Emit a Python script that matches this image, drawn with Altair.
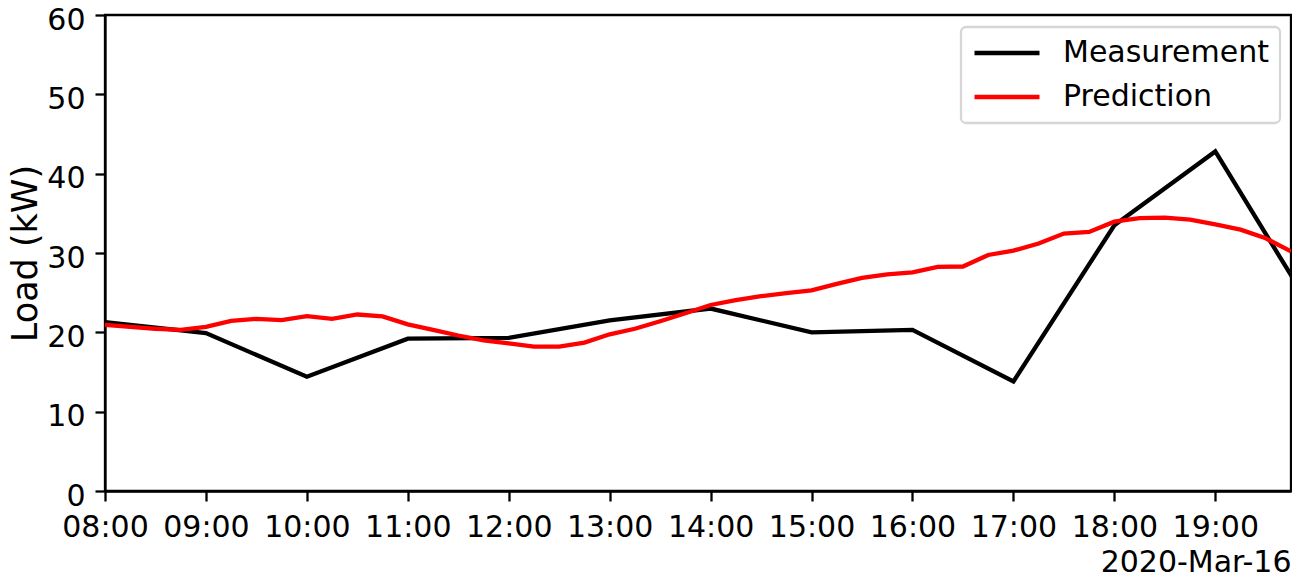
import altair as alt
import pandas as pd

# Measurement (hourly)
meas_times = pd.date_range("2020-03-16 08:00", "2020-03-16 20:00", freq="60min")
meas_values = [21.3, 19.9, 14.4, 19.2, 19.3, 21.5, 23.0, 20.0, 20.3, 13.8, 33.5, 42.8, 22.0]

# Prediction (15-minute)
pred_times = pd.date_range("2020-03-16 08:00", "2020-03-16 19:45", freq="15min")
pred_values = [
    20.95, 20.7, 20.45, 20.3, 20.7, 21.45, 21.7, 21.55,
    22.05, 21.7, 22.25, 22.0, 21.0, 20.3, 19.6, 19.0,
    18.6, 18.2, 18.2, 18.7, 19.75, 20.45, 21.4, 22.4,
    23.45, 24.05, 24.55, 24.95, 25.3, 26.1, 26.85, 27.3,
    27.55, 28.25, 28.3, 29.75, 30.3, 31.2, 32.45, 32.65,
    33.95, 34.4, 34.45, 34.2, 33.6, 32.95, 31.85, 30.2,
]

series_names = ["Measurement", "Prediction"]
series_colors = ["#000000", "#ff0000"]
y_ticks = [0, 10, 20, 30, 40, 50, 60]
x_tick_hours = list(range(8, 20))

df = pd.concat([
    pd.DataFrame({"time": meas_times.strftime("%Y-%m-%dT%H:%M:%S"), "load": meas_values, "series": series_names[0]}),
    pd.DataFrame({"time": pred_times.strftime("%Y-%m-%dT%H:%M:%S"), "load": pred_values, "series": series_names[1]}),
], ignore_index=True)

FONT = "DejaVu Sans"

chart = alt.Chart(df).mark_line(strokeWidth=4.3, clip=True).encode(
    x=alt.X(
        "time:T",
        scale=alt.Scale(
            domain=[
                alt.DateTime(year=2020, month=3, date=16, hours=8, minutes=0),
                alt.DateTime(year=2020, month=3, date=16, hours=19, minutes=45),
            ],
            nice=False,
        ),
        axis=alt.Axis(
            format="%H:%M",
            values=[alt.DateTime(year=2020, month=3, date=16, hours=h) for h in x_tick_hours],
            title="2020-Mar-16",
            titleAnchor="end",
            titleAlign="right",
            titleBaseline="top",
            titlePadding=5,
            titleFontSize=30,
            titleFontWeight="normal",
            labelFlush=False,
            labelOverlap=False,
            labelPadding=11,
        ),
    ),
    y=alt.Y(
        "load:Q",
        scale=alt.Scale(domain=[0, 60], nice=False, zero=True),
        axis=alt.Axis(
            values=y_ticks,
            title="Load (kW)",
            titleFontSize=35,
            titleFontWeight="normal",
            titlePadding=3,
            labelPadding=10,
            labelOffset=5,
            labelFlush=False,
        ),
    ),
    color=alt.Color(
        "series:N",
        scale=alt.Scale(domain=series_names, range=series_colors),
        legend=alt.Legend(
            title=None,
            orient="none",
            legendX=856,
            legendY=12,
            symbolType="stroke",
            symbolSize=4225,
            symbolStrokeWidth=4.3,
            clipHeight=30,
            rowPadding=14,
            labelFontSize=30,
            labelOffset=21,
            labelLimit=400,
            padding=11,
            fillColor="#ffffff",
            strokeColor="#d6d6d6",
            cornerRadius=5,
        ),
    ),
).properties(
    width=1186,
    height=476,
    padding={"left": 97, "top": 7, "right": 1, "bottom": 84},
    autosize=alt.AutoSizeParams(type="none"),
).configure(
    font=FONT,
).configure_axis(
    grid=False,
    domainColor="#000000",
    domainWidth=2.3,
    tickColor="#000000",
    tickWidth=2.3,
    tickSize=10,
    labelFontSize=30,
    labelColor="#000000",
    titleColor="#000000",
    labelFont=FONT,
    titleFont=FONT,
).configure_legend(
    labelFont=FONT,
    labelColor="#000000",
    strokeWidth=2.3,
).configure_view(
    stroke="#000000",
    strokeWidth=2.3,
)

chart.save("out.html", embed_options={"renderer": "svg", "actions": False})
